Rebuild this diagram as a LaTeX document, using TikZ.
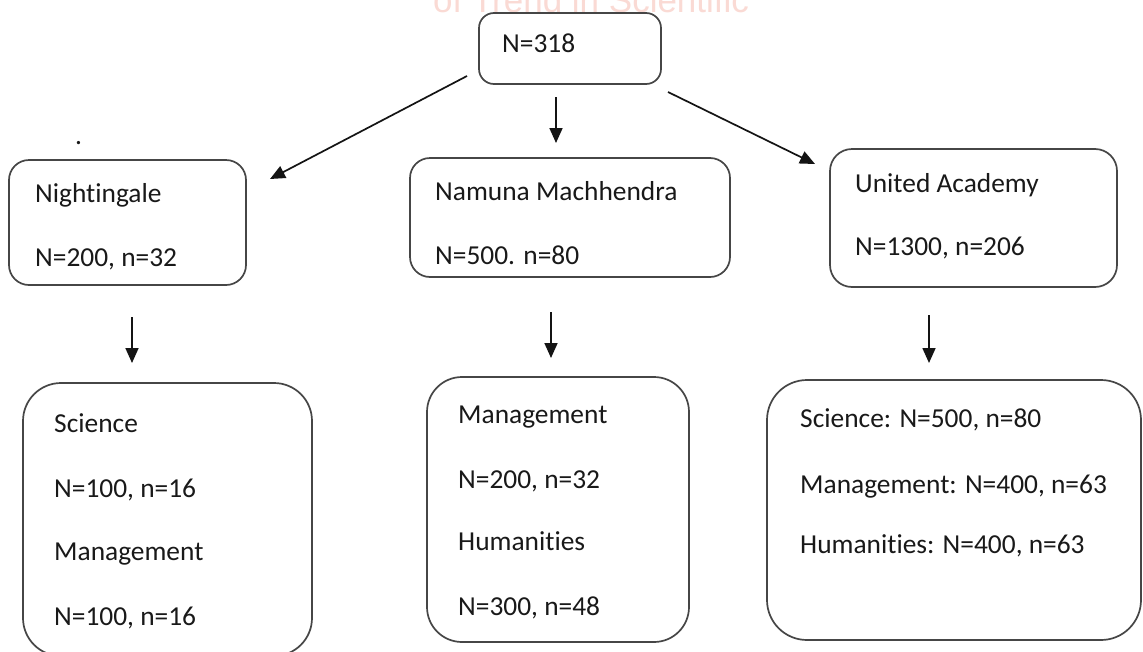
\documentclass[tikz,border=0pt]{standalone}
\usepackage{fontspec}
\setmainfont{Carlito}[Ligatures=NoCommon]
\newfontfamily\wmfont{Liberation Sans}
\usetikzlibrary{arrows.meta}
\definecolor{boxline}{RGB}{70,70,70}
\definecolor{arrline}{RGB}{20,20,20}
\definecolor{txt}{RGB}{25,25,25}
\definecolor{wm}{RGB}{250,218,212}
\tikzset{
  box/.style={draw=boxline, line width=1.7pt, rectangle, inner sep=0pt},
  arr/.style={draw=arrline, line width=1.7pt, -{Triangle[length=15pt,width=13pt]}},
  lbl/.style={anchor=base west, inner sep=0pt, text=txt, font=\fontsize{27.4}{30}\selectfont},
  wmark/.style={anchor=base west, inner sep=0pt, text=wm, font=\wmfont\fontsize{35}{40}\selectfont}
}
\begin{document}
\begin{tikzpicture}[x=1pt,y=-1pt]
\useasboundingbox (0,0) rectangle (1143,651);
\fill[white] (0,0) rectangle (1143,651);
% watermark
\node[wmark] (wmk) at (433,12) {of Trend in Scientific};
% boxes
\node[box, rounded corners=15pt, minimum width=182pt, minimum height=71pt] (top) at (570,48.5) {};
\node[box, rounded corners=20pt, minimum width=237pt, minimum height=125pt] (night) at (127.5,222.5) {};
\node[box, rounded corners=20pt, minimum width=320pt, minimum height=119pt] (namuna) at (570,217.5) {};
\node[box, rounded corners=22pt, minimum width=287pt, minimum height=138pt] (united) at (973.5,218) {};
\node[box, rounded corners=38pt, minimum width=289pt, minimum height=273pt] (bl) at (167.5,519.5) {};
\node[box, rounded corners=35pt, minimum width=262pt, minimum height=265pt] (bm) at (558,509.5) {};
\node[box, rounded corners=40pt, minimum width=374pt, minimum height=260pt] (br) at (954,510) {};
% texts
\node[lbl] (t0) at (502,52) {N=318};
\node[lbl] (dot) at (75,144) {.};
\node[lbl] (t1a) at (35,202) {Nightingale};
\node[lbl] (t1b) at (35,266) {N=200, n=32};
\node[lbl] (t2a) at (435,200) {Namuna Machhendra};
\node[lbl] (t2b) at (435,264) {N=500. n=80};
\node[lbl] (t3a) at (855,192) {United Academy};
\node[lbl] (t3b) at (855,255) {N=1300, n=206};
\node[lbl] (t4a) at (54,432) {Science};
\node[lbl] (t4b) at (54,497) {N=100, n=16};
\node[lbl] (t4c) at (54,560) {Management};
\node[lbl] (t4d) at (54,625) {N=100, n=16};
\node[lbl] (t5a) at (458,423) {Management};
\node[lbl] (t5b) at (458,488) {N=200, n=32};
\node[lbl] (t5c) at (458,550) {Humanities};
\node[lbl] (t5d) at (458,615) {N=300, n=48};
\node[lbl] (t6a) at (800,427) {Science: N=500, n=80};
\node[lbl] (t6b) at (800,493) {Management: N=400, n=63};
\node[lbl] (t6c) at (800,553) {Humanities: N=400, n=63};
% arrow end points
\coordinate (a1s) at (467,76);  \coordinate (a1e) at (270,179);
\coordinate (a2s) at (556,97);  \coordinate (a2e) at (556,143);
\coordinate (a3s) at (668,92);  \coordinate (a3e) at (815,164);
\coordinate (a4s) at (132,317); \coordinate (a4e) at (132,363);
\coordinate (a5s) at (551,312); \coordinate (a5e) at (551,358);
\coordinate (a6s) at (929,315); \coordinate (a6e) at (929,363);
\draw[arr] (a1s) -- (a1e);
\draw[arr] (a2s) -- (a2e);
\draw[arr] (a3s) -- (a3e);
\draw[arr] (a4s) -- (a4e);
\draw[arr] (a5s) -- (a5e);
\draw[arr] (a6s) -- (a6e);
\end{tikzpicture}
\end{document}
